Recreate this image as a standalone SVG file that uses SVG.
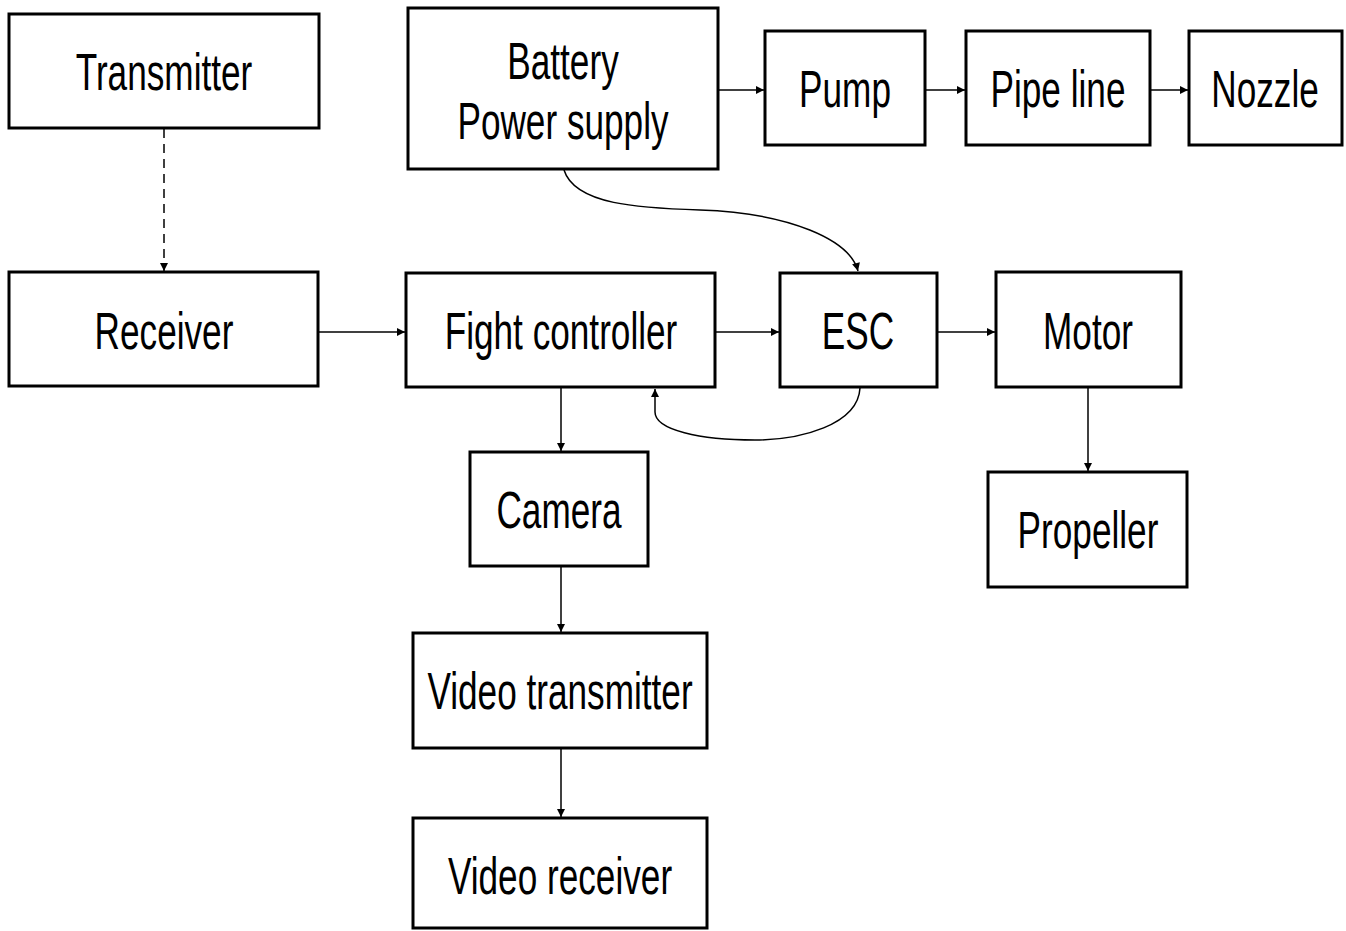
<svg xmlns="http://www.w3.org/2000/svg" width="1346" height="931" viewBox="0 0 1346 931">
<style>
.box{fill:#fff;stroke:#000;stroke-width:3}
.lbl{font-family:"Liberation Sans",Arial,sans-serif;font-size:51px;fill:#000;text-anchor:middle}
.con{fill:none;stroke:#000;stroke-width:1.5}
</style>
<defs>
<marker id="ah" viewBox="0 0 10 10" refX="10" refY="5" markerWidth="9" markerHeight="8" markerUnits="userSpaceOnUse" orient="auto">
<path d="M0,0 L10,5 L0,10 z" fill="#000"/>
</marker>
</defs>
<rect width="1346" height="931" fill="#fff"/>
<g id="connectors">
<path class="con" d="M164,129 L164,271" stroke-dasharray="9,6" marker-end="url(#ah)"/>
<path class="con" d="M719,90 L764,90" marker-end="url(#ah)"/>
<path class="con" d="M926,90 L965,90" marker-end="url(#ah)"/>
<path class="con" d="M1151,90 L1188,90" marker-end="url(#ah)"/>
<path class="con" d="M319,332 L405,332" marker-end="url(#ah)"/>
<path class="con" d="M716,332 L779,332" marker-end="url(#ah)"/>
<path class="con" d="M938,332 L995,332" marker-end="url(#ah)"/>
<path class="con" d="M561,388 L561,451" marker-end="url(#ah)"/>
<path class="con" d="M561,567 L561,632" marker-end="url(#ah)"/>
<path class="con" d="M561,749 L561,817" marker-end="url(#ah)"/>
<path class="con" d="M1088,388 L1088,471" marker-end="url(#ah)"/>
<path class="con" d="M564,170 C575,205 640,208 700,210 C790,213 850,240 858,271" marker-end="url(#ah)"/>
<path class="con" d="M860,388 C858,425 800,440 755,440 C700,440 655,430 655,412 L655,389" marker-end="url(#ah)"/>
</g>
<g id="transmitter"><rect class="box" x="9" y="14" width="310" height="114"/><text class="lbl" transform="translate(164,90) scale(0.69,1)">Transmitter</text></g>
<g id="battery"><rect class="box" x="408" y="8" width="310" height="161"/><text class="lbl" transform="translate(563,79) scale(0.69,1)">Battery</text><text class="lbl" transform="translate(563,139) scale(0.69,1)">Power supply</text></g>
<g id="pump"><rect class="box" x="765" y="31" width="160" height="114"/><text class="lbl" transform="translate(845,107) scale(0.69,1)">Pump</text></g>
<g id="pipeline"><rect class="box" x="966" y="31" width="184" height="114"/><text class="lbl" transform="translate(1058,107) scale(0.69,1)">Pipe line</text></g>
<g id="nozzle"><rect class="box" x="1189" y="31" width="153" height="114"/><text class="lbl" transform="translate(1265,107) scale(0.69,1)">Nozzle</text></g>
<g id="receiver"><rect class="box" x="9" y="272" width="309" height="114"/><text class="lbl" transform="translate(164,349) scale(0.69,1)">Receiver</text></g>
<g id="flightcontroller"><rect class="box" x="406" y="273" width="309" height="114"/><text class="lbl" transform="translate(561,349) scale(0.69,1)">Fight controller</text></g>
<g id="esc"><rect class="box" x="780" y="273" width="157" height="114"/><text class="lbl" transform="translate(858,349) scale(0.69,1)">ESC</text></g>
<g id="motor"><rect class="box" x="996" y="272" width="185" height="115"/><text class="lbl" transform="translate(1088,349) scale(0.69,1)">Motor</text></g>
<g id="propeller"><rect class="box" x="988" y="472" width="199" height="115"/><text class="lbl" transform="translate(1088,548) scale(0.69,1)">Propeller</text></g>
<g id="camera"><rect class="box" x="470" y="452" width="178" height="114"/><text class="lbl" transform="translate(559,528) scale(0.69,1)">Camera</text></g>
<g id="videotransmitter"><rect class="box" x="413" y="633" width="294" height="115"/><text class="lbl" transform="translate(560,709) scale(0.69,1)">Video transmitter</text></g>
<g id="videoreceiver"><rect class="box" x="413" y="818" width="294" height="110"/><text class="lbl" transform="translate(560,894) scale(0.69,1)">Video receiver</text></g>
</svg>
